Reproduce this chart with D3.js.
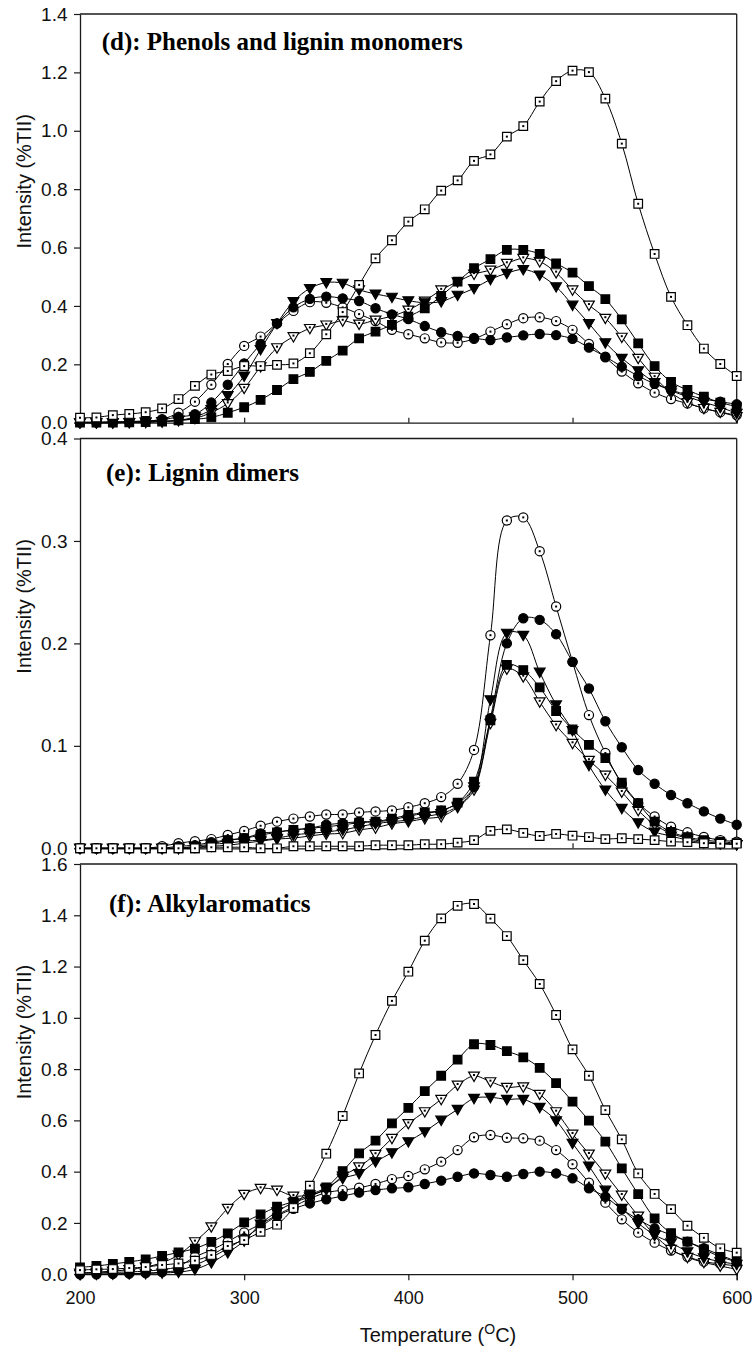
<!DOCTYPE html>
<html>
<head>
<meta charset="utf-8">
<script src="https://cdn.jsdelivr.net/npm/d3@7"></script>
<style>
  body { margin: 0; background: #fff; }
  svg { display: block; }
</style>
</head>
<body>
<svg id="chart" width="752" height="1350"></svg>
<script>
// Temperature grid (°C)
const temperature = [200,210,220,230,240,250,260,270,280,290,300,310,320,330,340,350,360,370,380,390,
                     400,410,420,430,440,450,460,470,480,490,500,510,520,530,540,550,560,570,580,590,600];

// (d) Phenols and lignin monomers, intensity (%TII)
const dOpenSquare   = [0.017,0.018,0.026,0.030,0.036,0.049,0.081,0.126,0.165,0.177,0.194,0.194,0.198,0.203,0.238,0.303,0.379,0.472,0.563,0.625,0.689,0.731,0.795,0.830,0.897,0.919,0.980,1.016,1.100,1.170,1.206,1.201,1.110,0.956,0.750,0.578,0.431,0.334,0.254,0.201,0.160];
const dFilledCircle = [0.002,0.002,0.003,0.004,0.006,0.010,0.020,0.029,0.069,0.130,0.203,0.270,0.340,0.395,0.424,0.432,0.426,0.417,0.392,0.371,0.355,0.331,0.310,0.297,0.290,0.283,0.292,0.299,0.304,0.300,0.287,0.257,0.226,0.192,0.160,0.133,0.112,0.095,0.081,0.072,0.063];
const dOpenCircle   = [0.001,0.001,0.002,0.003,0.005,0.012,0.034,0.072,0.130,0.201,0.263,0.295,0.340,0.383,0.413,0.411,0.395,0.372,0.348,0.318,0.303,0.289,0.275,0.274,0.287,0.312,0.337,0.358,0.361,0.348,0.318,0.270,0.224,0.175,0.135,0.103,0.081,0.066,0.049,0.036,0.026];
const dFilledTri    = [0.000,0.000,0.000,0.001,0.002,0.004,0.008,0.020,0.045,0.093,0.160,0.251,0.340,0.415,0.460,0.480,0.478,0.455,0.441,0.430,0.418,0.411,0.415,0.437,0.460,0.491,0.512,0.525,0.506,0.466,0.403,0.340,0.274,0.221,0.178,0.138,0.110,0.089,0.070,0.053,0.032];
const dOpenTri      = [0.000,0.000,0.000,0.001,0.002,0.004,0.008,0.015,0.035,0.066,0.118,0.192,0.257,0.295,0.323,0.335,0.349,0.338,0.352,0.365,0.386,0.417,0.455,0.483,0.509,0.523,0.546,0.563,0.552,0.514,0.455,0.403,0.358,0.293,0.221,0.156,0.103,0.069,0.049,0.036,0.021];
const dFilledSquare = [0.000,0.000,0.000,0.001,0.002,0.004,0.008,0.012,0.018,0.034,0.053,0.078,0.112,0.149,0.174,0.212,0.247,0.289,0.312,0.335,0.363,0.392,0.434,0.483,0.529,0.560,0.592,0.592,0.578,0.546,0.514,0.468,0.423,0.354,0.272,0.194,0.140,0.112,0.089,0.069,0.055];

// (e) Lignin dimers
const eOpenSquare   = [0.000,0.000,0.000,0.000,0.000,0.000,0.000,0.000,0.001,0.001,0.001,0.000,0.000,0.002,0.002,0.002,0.002,0.002,0.003,0.003,0.003,0.004,0.004,0.0055,0.008,0.017,0.0185,0.015,0.012,0.014,0.0123,0.011,0.009,0.0098,0.009,0.008,0.0065,0.006,0.005,0.0045,0.0045];
const eFilledCircle = [0.000,0.000,0.000,0.000,0.000,0.000,0.002,0.003,0.006,0.008,0.0098,0.0146,0.016,0.018,0.0195,0.023,0.0244,0.026,0.026,0.0276,0.0315,0.034,0.0367,0.044,0.060,0.127,0.200,0.2245,0.223,0.209,0.182,0.156,0.124,0.0986,0.0764,0.063,0.052,0.044,0.036,0.029,0.023];
const eOpenCircle   = [0.000,0.000,0.000,0.000,0.000,0.002,0.005,0.007,0.009,0.013,0.017,0.022,0.026,0.029,0.031,0.033,0.033,0.035,0.036,0.037,0.040,0.044,0.050,0.063,0.096,0.208,0.320,0.323,0.290,0.236,0.182,0.130,0.093,0.063,0.044,0.031,0.021,0.0156,0.011,0.008,0.0065];
const eFilledTri    = [0.000,0.000,0.000,0.000,0.000,0.000,0.000,0.002,0.004,0.005,0.007,0.008,0.0098,0.013,0.0146,0.016,0.018,0.021,0.024,0.026,0.0276,0.031,0.034,0.041,0.060,0.145,0.210,0.208,0.172,0.140,0.115,0.081,0.057,0.039,0.025,0.016,0.012,0.008,0.0055,0.0045,0.0036];
const eOpenTri      = [0.000,0.000,0.000,0.000,0.000,0.000,0.000,0.001,0.002,0.003,0.005,0.007,0.009,0.010,0.012,0.014,0.0146,0.018,0.020,0.024,0.026,0.029,0.031,0.040,0.057,0.122,0.175,0.1675,0.143,0.120,0.1025,0.086,0.0715,0.055,0.037,0.023,0.0146,0.0098,0.0065,0.005,0.0036];
const eFilledSquare = [0.000,0.000,0.000,0.000,0.000,0.000,0.000,0.000,0.004,0.008,0.0098,0.013,0.0156,0.018,0.0195,0.021,0.0228,0.025,0.026,0.029,0.0325,0.035,0.037,0.0445,0.065,0.125,0.179,0.174,0.157,0.134,0.116,0.101,0.088,0.064,0.044,0.026,0.016,0.011,0.008,0.0065,0.005];

// (f) Alkylaromatics
const fOpenSquare   = [0.016,0.019,0.020,0.024,0.028,0.036,0.042,0.053,0.075,0.110,0.133,0.165,0.193,0.258,0.345,0.470,0.617,0.783,0.933,1.066,1.180,1.301,1.388,1.437,1.444,1.387,1.319,1.225,1.132,1.011,0.877,0.774,0.640,0.526,0.393,0.313,0.254,0.189,0.142,0.101,0.084];
const fFilledCircle = [0.000,0.000,0.001,0.002,0.004,0.008,0.015,0.035,0.065,0.101,0.140,0.185,0.227,0.255,0.276,0.292,0.305,0.318,0.328,0.335,0.339,0.352,0.365,0.380,0.393,0.387,0.380,0.391,0.400,0.393,0.374,0.335,0.302,0.253,0.214,0.179,0.153,0.127,0.101,0.075,0.049];
const fOpenCircle   = [0.004,0.005,0.007,0.009,0.012,0.018,0.030,0.068,0.094,0.127,0.163,0.195,0.231,0.263,0.295,0.318,0.328,0.337,0.352,0.371,0.383,0.409,0.439,0.484,0.534,0.543,0.532,0.530,0.521,0.484,0.429,0.357,0.279,0.214,0.162,0.123,0.092,0.068,0.049,0.040,0.032];
const fFilledTri    = [0.000,0.000,0.001,0.002,0.003,0.005,0.008,0.019,0.045,0.084,0.130,0.196,0.244,0.279,0.302,0.335,0.374,0.393,0.439,0.474,0.517,0.556,0.601,0.643,0.686,0.690,0.682,0.682,0.651,0.599,0.511,0.422,0.328,0.257,0.199,0.153,0.123,0.088,0.064,0.049,0.039];
const fOpenTri      = [0.005,0.008,0.012,0.018,0.028,0.045,0.075,0.127,0.185,0.257,0.312,0.335,0.328,0.305,0.310,0.330,0.383,0.419,0.468,0.530,0.588,0.634,0.682,0.738,0.773,0.751,0.729,0.731,0.702,0.634,0.547,0.469,0.391,0.309,0.227,0.153,0.097,0.066,0.046,0.032,0.019];
const fFilledSquare = [0.027,0.032,0.040,0.048,0.058,0.071,0.085,0.100,0.126,0.159,0.202,0.233,0.263,0.283,0.310,0.339,0.402,0.471,0.521,0.588,0.649,0.714,0.774,0.837,0.897,0.894,0.870,0.846,0.805,0.745,0.673,0.599,0.517,0.413,0.312,0.218,0.160,0.127,0.097,0.068,0.049];

// Axis tick values
const xTicks  = [200, 300, 400, 500, 600];
const dYTicks = [0.0, 0.2, 0.4, 0.6, 0.8, 1.0, 1.2, 1.4];
const eYTicks = [0.0, 0.1, 0.2, 0.3, 0.4];
const fYTicks = [0.0, 0.2, 0.4, 0.6, 0.8, 1.0, 1.2, 1.4, 1.6];

const panelTitles = ["(d): Phenols and lignin monomers", "(e): Lignin dimers", "(f): Alkylaromatics"];
const yAxisTitle = "Intensity (%TII)";

// Drawing order (later series sit on top)
const symbolOrder = ["openCircle", "openTri", "filledTri", "filledSquare", "filledCircle", "openSquare"];

const panels = [
  { title: panelTitles[0], ticks: dYTicks, top: 14,    bottom: 422.7,  titleX: 101.7, titleY: 49.5,
    data: { openSquare: dOpenSquare, filledCircle: dFilledCircle, openCircle: dOpenCircle,
            filledTri: dFilledTri, openTri: dOpenTri, filledSquare: dFilledSquare } },
  { title: panelTitles[1], ticks: eYTicks, top: 438.5, bottom: 848.3,  titleX: 106,   titleY: 481,
    data: { openSquare: eOpenSquare, filledCircle: eFilledCircle, openCircle: eOpenCircle,
            filledTri: eFilledTri, openTri: eOpenTri, filledSquare: eFilledSquare } },
  { title: panelTitles[2], ticks: fYTicks, top: 864,   bottom: 1274.2, titleX: 109,   titleY: 911.5,
    data: { openSquare: fOpenSquare, filledCircle: fFilledCircle, openCircle: fOpenCircle,
            filledTri: fFilledTri, openTri: fOpenTri, filledSquare: fFilledSquare } }
];

const svg = d3.select("#chart");
const plotLeft = 80, plotRight = 736.7;
const x = d3.scaleLinear().domain([200, 600]).range([plotLeft, plotRight]);

const axisColor = "#1a1a1a";
const tickFont = "Liberation Sans, Arial, sans-serif";

// Marker glyph builders
const circlePath = d3.symbol().type(d3.symbolCircle).size(Math.PI * 4.6 * 4.6)();
const squarePath = d3.symbol().type(d3.symbolSquare).size(8.6 * 8.6)();
const triPath    = d3.symbol().type(d3.symbolTriangle).size(50)();

function drawMarker(g, kind) {
  const filled = kind.startsWith("filled");
  let path = circlePath, rot = 0;
  if (kind.endsWith("Square")) path = squarePath;
  if (kind.endsWith("Tri")) { path = triPath; rot = 180; }
  g.append("path")
    .attr("d", path)
    .attr("transform", rot ? `rotate(${rot}) translate(0,0.8)` : null)
    .attr("fill", filled ? "#000" : "#fff")
    .attr("stroke", "#000")
    .attr("stroke-width", 1.2);
  if (!filled) {
    g.append("rect")
      .attr("x", -1).attr("y", kind.endsWith("Tri") ? -2 : -1)
      .attr("width", 2).attr("height", 2)
      .attr("fill", "#000");
  }
}

panels.forEach((p, i) => {
  const yMax = p.ticks[p.ticks.length - 1];
  const y = d3.scaleLinear().domain([0, yMax]).range([p.bottom, p.top]);
  const g = svg.append("g");

  // frame: top and right edges
  g.append("line").attr("x1", plotLeft).attr("x2", plotRight).attr("y1", p.top).attr("y2", p.top)
    .attr("stroke", axisColor).attr("stroke-width", 1.3);
  g.append("line").attr("x1", plotRight).attr("x2", plotRight).attr("y1", p.top).attr("y2", p.bottom)
    .attr("stroke", axisColor).attr("stroke-width", 1.3);

  // y axis
  const yAxis = d3.axisLeft(y).tickValues(p.ticks).tickFormat(d3.format(".1f"))
    .tickSize(6).tickPadding(6.5).tickSizeOuter(0);
  const ya = g.append("g").attr("transform", `translate(${plotLeft},0)`).call(yAxis);
  ya.select(".domain").attr("stroke", axisColor).attr("stroke-width", 1.3);
  ya.selectAll(".tick line").attr("stroke", axisColor).attr("stroke-width", 1.2);
  ya.selectAll(".tick text").attr("font-family", tickFont).attr("font-size", 19).attr("fill", "#111");

  // x axis
  const last = i === panels.length - 1;
  const xAxis = d3.axisBottom(x).tickValues(xTicks).tickSizeOuter(0);
  if (last) {
    xAxis.tickSize(6).tickPadding(11).tickFormat(d3.format("d"));
  } else {
    xAxis.tickSize(-5).tickFormat("");
  }
  const xa = g.append("g").attr("transform", `translate(0,${p.bottom})`).call(xAxis);
  xa.select(".domain").attr("stroke", axisColor).attr("stroke-width", 1.3);
  xa.selectAll(".tick line").attr("stroke", axisColor).attr("stroke-width", 1.2);
  xa.selectAll(".tick text").attr("font-family", tickFont).attr("font-size", 18).attr("fill", "#111");

  // y axis title
  g.append("text")
    .attr("transform", `translate(31,${(p.top + p.bottom) / 2 - 37}) rotate(-90)`)
    .attr("text-anchor", "middle")
    .attr("font-family", tickFont).attr("font-size", 20).attr("fill", "#111")
    .text(yAxisTitle);

  // panel title
  g.append("text")
    .attr("x", p.titleX).attr("y", p.titleY)
    .attr("font-family", "Liberation Serif, Times New Roman, serif")
    .attr("font-weight", "bold").attr("font-size", 25).attr("fill", "#000")
    .text(p.title);

  // series
  const line = d3.line()
    .x((d, k) => x(temperature[k]))
    .y(d => y(d))
    .curve(d3.curveCatmullRom.alpha(0.5));

  symbolOrder.forEach(kind => {
    const values = p.data[kind];
    const sg = g.append("g");
    sg.append("path").attr("d", line(values))
      .attr("fill", "none").attr("stroke", "#000").attr("stroke-width", 1);
    sg.selectAll("g.pt").data(values).join("g")
      .attr("class", "pt")
      .attr("transform", (d, k) => `translate(${x(temperature[k])},${y(d)})`)
      .each(function () { drawMarker(d3.select(this), kind); });
  });
});

// x axis title with superscript degree marker
const xt = svg.append("text")
  .attr("x", 438).attr("y", 1341.5)
  .attr("text-anchor", "middle")
  .attr("font-family", tickFont).attr("font-size", 20).attr("fill", "#111");
xt.append("tspan").text("Temperature (");
xt.append("tspan").attr("font-size", 14).attr("dy", -8).text("O");
xt.append("tspan").attr("dy", 8).text("C)");
</script>
</body>
</html>
